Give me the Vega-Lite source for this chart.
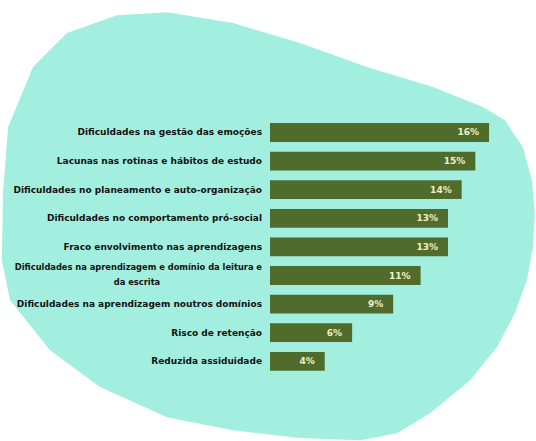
{
  "$schema": "https://vega.github.io/schema/vega-lite/v6.json",
  "width": 536,
  "height": 276.2,
  "autosize": {"type": "none"},
  "padding": {"top": 108.8, "bottom": 56, "left": 0, "right": 0},
  "background": "#ffffff",
  "config": {"view": {"stroke": null}, "text": {"font": "DejaVu Sans"}},
  "data": {
    "values": [
      {"item": "Dificuldades na gestão das emoções", "line1": "Dificuldades na gestão das emoções", "value": 0.16},
      {"item": "Lacunas nas rotinas e hábitos de estudo", "line1": "Lacunas nas rotinas e hábitos de estudo", "value": 0.15},
      {"item": "Dificuldades no planeamento e auto-organização", "line1": "Dificuldades no planeamento e auto-organização", "value": 0.14},
      {"item": "Dificuldades no comportamento pró-social", "line1": "Dificuldades no comportamento pró-social", "value": 0.13},
      {"item": "Fraco envolvimento nas aprendizagens", "line1": "Fraco envolvimento nas aprendizagens", "value": 0.13},
      {"item": "Dificuldades na aprendizagem e domínio da leitura e da escrita", "line1": "Dificuldades na aprendizagem e domínio da leitura e", "line2": "da escrita", "value": 0.11},
      {"item": "Dificuldades na aprendizagem noutros domínios", "line1": "Dificuldades na aprendizagem noutros domínios", "value": 0.09},
      {"item": "Risco de retenção", "line1": "Risco de retenção", "value": 0.06},
      {"item": "Reduzida assiduidade", "line1": "Reduzida assiduidade", "value": 0.04}
    ]
  },
  "encoding": {
    "y": {
      "field": "item",
      "type": "nominal",
      "axis": null,
      "scale": {
        "domain": [
          "Dificuldades na gestão das emoções",
          "Lacunas nas rotinas e hábitos de estudo",
          "Dificuldades no planeamento e auto-organização",
          "Dificuldades no comportamento pró-social",
          "Fraco envolvimento nas aprendizagens",
          "Dificuldades na aprendizagem e domínio da leitura e da escrita",
          "Dificuldades na aprendizagem noutros domínios",
          "Risco de retenção",
          "Reduzida assiduidade"
        ],
        "paddingInner": 0.343,
        "paddingOuter": 0.5,
        "align": 0.5,
        "round": false
      }
    }
  },
  "layer": [
    {
      "transform": [{"filter": "datum.item == 'Fraco envolvimento nas aprendizagens'"}],
      "mark": {
        "type": "point",
        "shape": "M-0.567,-0.858 L-0.381,-0.869 L-0.137,-0.829 L0.111,-0.755 L0.359,-0.666 L0.604,-0.592 L0.789,-0.518 L0.870,-0.469 L0.937,-0.369 L0.970,-0.247 L0.981,-0.125 L0.974,0.001 L0.952,0.123 L0.907,0.245 L0.841,0.371 L0.741,0.494 L0.593,0.616 L0.470,0.690 L0.333,0.716 L0.111,0.708 L-0.137,0.679 L-0.381,0.631 L-0.630,0.519 L-0.815,0.383 L-0.963,0.197 L-0.993,0.049 L-0.989,-0.199 L-0.970,-0.443 L-0.878,-0.666 L-0.752,-0.792 Z",
        "size": 291600,
        "filled": true,
        "color": "#a2efdf",
        "opacity": 1,
        "strokeWidth": 0
      },
      "encoding": {
        "x": {"datum": 0, "type": "quantitative", "axis": null, "scale": {"domain": [-0.19722, 0.1943], "nice": false, "zero": false}}
      }
    },
    {
      "mark": {"type": "bar", "color": "#506c2c"},
      "encoding": {
        "x": {"field": "value", "type": "quantitative"},
        "x2": {"datum": 0}
      }
    },
    {
      "mark": {"type": "text", "align": "right", "baseline": "middle", "dx": -10, "fontSize": 9, "fontWeight": "bold", "color": "#f3efc4"},
      "encoding": {
        "x": {"field": "value", "type": "quantitative"},
        "text": {"field": "value", "type": "quantitative", "format": ".0%"}
      }
    },
    {
      "transform": [{"filter": "!datum.line2"}],
      "mark": {"type": "text", "align": "right", "baseline": "middle", "dx": -8, "fontSize": 9, "fontWeight": "bold", "color": "#111111"},
      "encoding": {
        "x": {"datum": 0, "type": "quantitative"},
        "text": {"field": "line1", "type": "nominal"}
      }
    },
    {
      "transform": [{"filter": "datum.line2"}],
      "mark": {"type": "text", "align": "right", "baseline": "middle", "dx": -8, "dy": -8, "fontSize": 8.3, "fontWeight": "bold", "color": "#111111"},
      "encoding": {
        "x": {"datum": 0, "type": "quantitative"},
        "text": {"field": "line1", "type": "nominal"}
      }
    },
    {
      "transform": [{"filter": "datum.line2"}],
      "mark": {"type": "text", "align": "center", "baseline": "middle", "dx": -133, "dy": 7, "fontSize": 8.3, "fontWeight": "bold", "color": "#111111"},
      "encoding": {
        "x": {"datum": 0, "type": "quantitative"},
        "text": {"field": "line2", "type": "nominal"}
      }
    }
  ]
}
